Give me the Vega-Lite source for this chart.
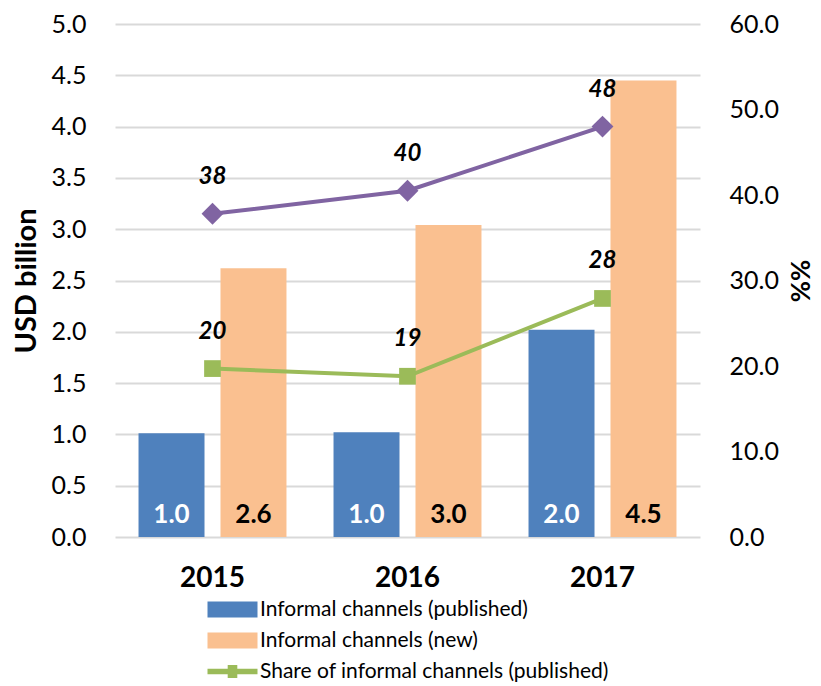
{
  "$schema": "https://vega.github.io/schema/vega-lite/v6.json",
  "autosize": {"type": "none"},
  "width": 585,
  "height": 513,
  "padding": {"left": 115, "top": 24, "right": 121, "bottom": 149},
  "background": "white",
  "config": {
    "font": "Lato",
    "view": {"stroke": null},
    "axis": {"labelFont": "Lato", "titleFont": "Lato", "labelColor": "black", "titleColor": "black"}
  },
  "datasets": {
    "bars": [
      {"year": "2015", "series": "Informal channels (published)", "value": 1.01, "label": "1.0"},
      {"year": "2015", "series": "Informal channels (new)", "value": 2.62, "label": "2.6"},
      {"year": "2016", "series": "Informal channels (published)", "value": 1.02, "label": "1.0"},
      {"year": "2016", "series": "Informal channels (new)", "value": 3.04, "label": "3.0"},
      {"year": "2017", "series": "Informal channels (published)", "value": 2.02, "label": "2.0"},
      {"year": "2017", "series": "Informal channels (new)", "value": 4.45, "label": "4.5"}
    ],
    "shares": [
      {"year": "2015", "series": "Share of informal channels (published)", "value": 19.7, "label": "20"},
      {"year": "2016", "series": "Share of informal channels (published)", "value": 18.8, "label": "19"},
      {"year": "2017", "series": "Share of informal channels (published)", "value": 27.9, "label": "28"},
      {"year": "2015", "series": "Share of informal channels (new)", "value": 37.8, "label": "38"},
      {"year": "2016", "series": "Share of informal channels (new)", "value": 40.5, "label": "40"},
      {"year": "2017", "series": "Share of informal channels (new)", "value": 48.0, "label": "48"}
    ]
  },
  "layer": [
    {
      "data": {"name": "bars"},
      "encoding": {
        "x": {
          "field": "year", "type": "nominal",
          "scale": {"paddingInner": 0, "paddingOuter": 0},
          "axis": {"title": null, "domain": false, "ticks": false, "labelAngle": 0, "labelFontSize": 28, "labelFontWeight": "bold", "labelPadding": 27}
        },
        "xOffset": {
          "field": "series", "type": "nominal",
          "sort": ["Informal channels (published)", "Informal channels (new)"],
          "scale": {"paddingInner": 0.195, "paddingOuter": 0.287}
        }
      },
      "layer": [
        {
          "mark": {"type": "bar"},
          "encoding": {
            "y": {
              "field": "value", "type": "quantitative",
              "scale": {"domain": [0, 5], "nice": false},
              "axis": {
                "title": "USD billion", "titleFontSize": 29, "titleFontWeight": "bold", "titlePadding": 10,
                "values": [0, 0.5, 1, 1.5, 2, 2.5, 3, 3.5, 4, 4.5, 5], "format": ".1f",
                "labelFontSize": 25, "labelPadding": 29, "domain": false, "ticks": false,
                "grid": true, "gridColor": "#D9D9D9", "gridWidth": 2
              }
            },
            "color": {
              "field": "series", "type": "nominal",
              "scale": {
                "domain": ["Informal channels (published)", "Informal channels (new)", "Share of informal channels (published)"],
                "range": ["#4F81BD", "#FAC090", "#9BBB59"]
              },
              "legend": {
                "title": null, "orient": "none", "legendX": 107, "legendY": 575, "direction": "vertical",
                "labelFontSize": 21, "labelFont": "Lato", "labelColor": "black", "labelOffset": 17,
                "labelLimit": 600,
                "rowPadding": 9,
                "symbolSize": 256,
                "symbolType": "M-3.125,-1H3.125V1H-3.125Z",
                "symbolStrokeWidth": 0,
                "encode": {
                  "symbols": {
                    "update": {
                      "shape": {"signal": "datum.value === 'Share of informal channels (published)' ? 'M-3.125,-0.33H3.125V0.33H-3.125Z M-0.6,-0.8H0.6V0.8H-0.6Z' : 'M-3.125,-1H3.125V1H-3.125Z'"},
                      "strokeWidth": {"value": 0}
                    }
                  }
                }
              }
            }
          }
        },
        {
          "mark": {"type": "text", "fontSize": 26, "fontWeight": "bold", "baseline": "alphabetic", "dy": -14},
          "encoding": {
            "y": {"datum": 0, "type": "quantitative"},
            "text": {"field": "label"},
            "color": {"condition": {"test": "datum.series === 'Informal channels (published)'", "value": "white"}, "value": "black"}
          }
        }
      ]
    },
    {
      "data": {"name": "shares"},
      "encoding": {
        "x": {"field": "year", "type": "nominal", "scale": {"paddingInner": 0, "paddingOuter": 0}},
        "y": {
          "field": "value", "type": "quantitative",
          "scale": {"domain": [0, 60], "nice": false},
          "axis": {
            "orient": "right", "title": "%%", "titleFontSize": 26, "titleFontWeight": "bold", "titlePadding": 7,
            "values": [0, 10, 20, 30, 40, 50, 60], "format": ".1f",
            "labelFontSize": 25, "labelPadding": 29, "domain": false, "ticks": false, "grid": false
          }
        }
      },
      "layer": [
        {
          "transform": [{"filter": "datum.series === 'Share of informal channels (new)'"}],
          "mark": {"type": "line", "color": "#8064A2", "strokeWidth": 4, "point": {"shape": "diamond", "size": 480, "filled": true, "color": "#8064A2"}}
        },
        {
          "transform": [{"filter": "datum.series === 'Share of informal channels (published)'"}],
          "mark": {"type": "line", "strokeWidth": 4, "point": {"shape": "square", "size": 280, "filled": true}},
          "encoding": {
            "color": {"field": "series", "type": "nominal"}
          }
        },
        {
          "mark": {"type": "text", "fontSize": 24, "fontWeight": "bold", "fontStyle": "italic", "baseline": "middle", "dy": -37, "color": "black"},
          "encoding": {"text": {"field": "label"}}
        }
      ]
    }
  ],
  "resolve": {"scale": {"y": "independent"}, "axis": {"y": "independent"}}
}
